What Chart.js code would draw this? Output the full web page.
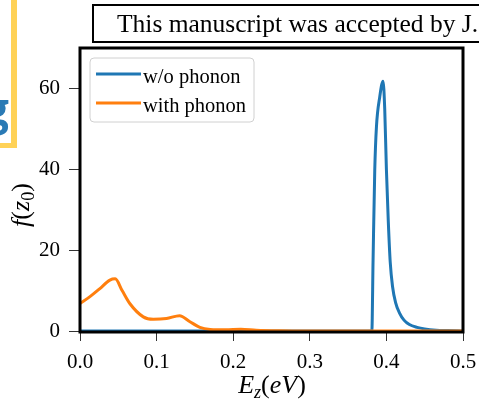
<!DOCTYPE html>
<html>
<head>
  <title>f(z0) vs Ez</title>
  <script src="https://cdn.jsdelivr.net/npm/chart.js"></script>
  <style>
    body { margin: 0; background: #fff; }
    #wrap { position: relative; width: 479px; height: 402px; overflow: hidden; background: #fff; }
    #chart { position: absolute; left: 0; top: 0; }
    .serif { font-family: 'Liberation Serif', 'Times New Roman', serif; color: #000; }
    #banner { position: absolute; left: 92px; top: 4px; width: 420px; height: 35px; border: 2px solid #000; }
    #bannerText { position: absolute; left: 117px; top: 9px; font-size: 25.5px; white-space: nowrap; }
    #yellowV { position: absolute; left: 11px; top: 0; width: 6px; height: 148px; background: #ffd257; }
    #yellowH { position: absolute; left: 0; top: 143px; width: 17px; height: 5px; background: #ffd257; }
    #logo { position: absolute; left: 0; top: 0; width: 11px; height: 143px; overflow: hidden; }
    #logo span { position: absolute; left: -16px; top: 78px; font: bold 44px 'Open Sans', sans-serif; color: #2a7ab5; }
    .axtitle { position: absolute; font-size: 26px; white-space: nowrap; line-height: 1; }
    .axtitle sub { font-size: 0.7em; vertical-align: -0.3em; line-height: 0; }
    #ytitle { left: 21px; top: 205px; transform: translate(-50%, -50%) rotate(-90deg); }
    #xtitle { left: 272px; top: 385px; transform: translate(-50%, -50%); }
  </style>
</head>
<body>
  <div id="wrap">
    <canvas id="chart" width="479" height="402"></canvas>
    <div id="logo"><span>g</span></div>
    <div id="yellowV"></div>
    <div id="yellowH"></div>
    <div id="banner"></div>
    <div id="bannerText" class="serif">This manuscript was accepted by J.</div>
    <div id="ytitle" class="axtitle serif"><i>f</i>(<i>z</i><sub>0</sub>)</div>
    <div id="xtitle" class="axtitle serif"><i>E<sub>z</sub></i>(<i>eV</i>)</div>
  </div>
  <script>
    // w/o phonon
    const woE = [0, 0.381, 0.3826, 0.3848, 0.387, 0.3913, 0.3956, 0.3978, 0.400, 0.4025, 0.405, 0.408, 0.412, 0.417, 0.423, 0.430, 0.440, 0.450, 0.465, 0.480, 0.500];
    const woF = [0, 0, 17.5, 39.8, 50.5, 57.9, 61.8, 55, 40, 27, 17, 11, 7, 4.5, 2.7, 1.6, 0.9, 0.5, 0.2, 0.1, 0];
    // with phonon
    const withE = [0, 0.013, 0.026, 0.039, 0.046, 0.055, 0.065, 0.0826, 0.0957, 0.113, 0.130, 0.1435, 0.1565, 0.170, 0.190, 0.210, 0.230, 0.260, 0.300, 0.500];
    const withF = [6.8, 8.5, 10.5, 12.6, 12.9, 10.0, 6.8, 3.5, 2.9, 3.1, 3.8, 2.3, 0.9, 0.4, 0.3, 0.45, 0.2, 0.05, 0, 0];

    const labels = ['w/o phonon', 'with phonon'];
    const colors = ['#1f77b4', '#ff7f0e'];
    const FONT = "'Liberation Serif', 'Times New Roman', serif";

    function pts(xs, ys) { return xs.map((x, i) => ({x: x, y: ys[i]})); }

    // black box around the axes + legend inside
    const framePlugin = {
      id: 'frame',
      afterDatasetsDraw(chart) {
        const a = chart.chartArea, ctx = chart.ctx;
        ctx.save();
        ctx.strokeStyle = '#000';
        ctx.lineWidth = 3;
        ctx.strokeRect(a.left, a.top, a.right - a.left, a.bottom - a.top + 1);
        // legend
        const x = a.left + 10, y = a.top + 10, w = 164, h = 64;
        ctx.beginPath();
        ctx.roundRect(x, y, w, h, 4);
        ctx.fillStyle = 'rgba(255,255,255,0.8)';
        ctx.fill();
        ctx.strokeStyle = '#d0d0d0';
        ctx.lineWidth = 1;
        ctx.stroke();
        ctx.font = '20.5px ' + FONT;
        ctx.textBaseline = 'alphabetic';
        chart.data.datasets.forEach((ds, i) => {
          const ly = y + 16 + i * 29;
          ctx.strokeStyle = ds.borderColor;
          ctx.lineWidth = 3;
          ctx.beginPath();
          ctx.moveTo(x + 6, ly);
          ctx.lineTo(x + 51, ly);
          ctx.stroke();
          ctx.fillStyle = '#000';
          ctx.fillText(ds.label, x + 53, ly + 9);
        });
        ctx.restore();
      }
    };

    new Chart(document.getElementById('chart'), {
      type: 'line',
      data: {
        datasets: [
          { label: labels[0], data: pts(woE, woF), borderColor: colors[0], borderWidth: 3, pointRadius: 0, fill: false, cubicInterpolationMode: 'monotone', order: 1 },
          { label: labels[1], data: pts(withE, withF), borderColor: colors[1], borderWidth: 3, pointRadius: 0, fill: false, cubicInterpolationMode: 'monotone', order: 0 }
        ]
      },
      options: {
        responsive: false,
        animation: false,
        layout: { padding: { top: 48, right: 16, left: 0, bottom: 0 } },
        plugins: { legend: { display: false }, tooltip: { enabled: false } },
        scales: {
          x: {
            type: 'linear', min: 0, max: 0.5,
            afterFit: s => { s.height = 71; s.paddingLeft = 0; s.paddingRight = 0; },
            grid: { display: true, drawOnChartArea: false, drawTicks: true, tickLength: 10, color: '#333' },
            border: { display: false },
            ticks: { stepSize: 0.1, color: '#000', padding: 9, font: { family: FONT, size: 21 }, callback: v => v.toFixed(1) }
          },
          y: {
            min: 0, max: 70,
            afterFit: s => { s.width = 80; s.paddingTop = 0; s.paddingBottom = 0; },
            grid: { display: true, drawOnChartArea: false, drawTicks: true, tickLength: 11, color: '#333' },
            border: { display: false },
            ticks: { stepSize: 20, includeBounds: false, color: '#000', padding: 9, font: { family: FONT, size: 21 } }
          }
        }
      },
      plugins: [framePlugin]
    });
  </script>
</body>
</html>
